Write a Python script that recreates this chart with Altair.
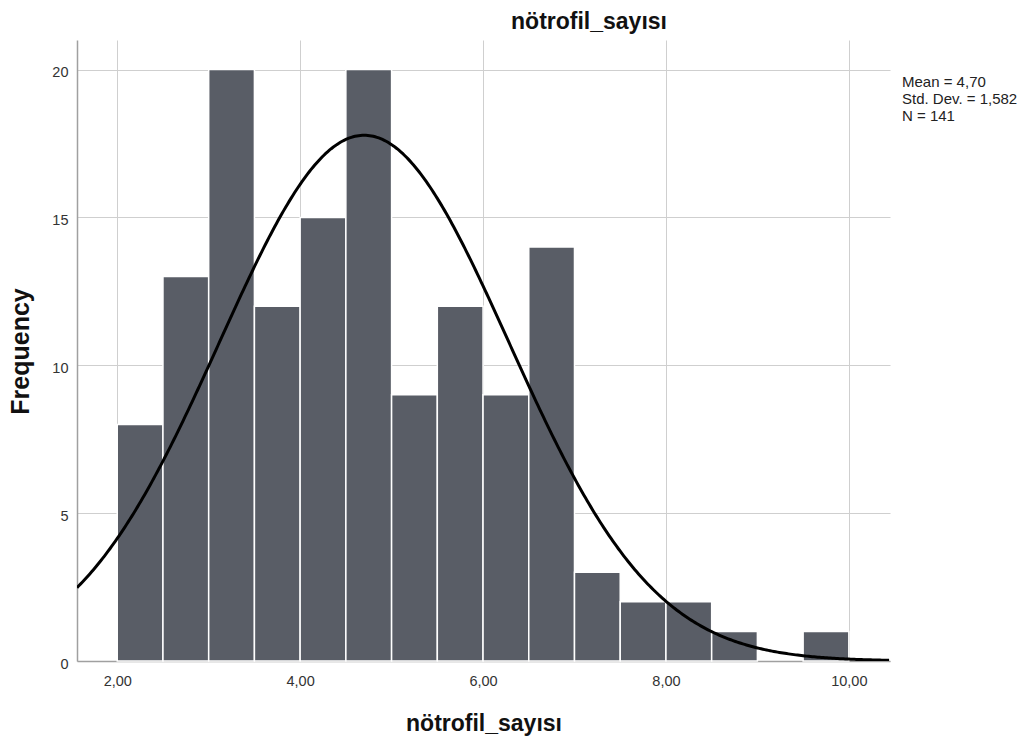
import altair as alt
import pandas as pd

# Histogram bins (width 0.5) and frequencies
bin_start = [2.0, 2.5, 3.0, 3.5, 4.0, 4.5, 5.0, 5.5, 6.0, 6.5, 7.0, 7.5, 8.0, 8.5, 9.5]
bin_end = [2.5, 3.0, 3.5, 4.0, 4.5, 5.0, 5.5, 6.0, 6.5, 7.0, 7.5, 8.0, 8.5, 9.0, 10.0]
counts = [8, 13, 20, 12, 15, 20, 9, 12, 9, 14, 3, 2, 2, 1, 1]

# Summary statistics printed on the chart
mean_val = 4.70
sd_val = 1.582
n_val = 141
bin_width = 0.5
stats_lines = ["Mean = 4,70", "Std. Dev. = 1,582", "N = 141"]

x_ticks = [2, 4, 6, 8, 10]
y_ticks = [0, 5, 10, 15, 20]
x_domain = [1.56, 10.45]
y_domain = [0, 21.0]

FONT = "Liberation Sans"
BAR = "#595d66"
CHART_TITLE = "nötrofil_sayısı"
X_TITLE = "nötrofil_sayısı"

bars_df = pd.DataFrame({"start": bin_start, "end": bin_end, "count": counts,
                        "base": [0] * len(counts)})
stats_df = pd.DataFrame({"line": stats_lines, "row": list(range(len(stats_lines)))})
title_df = pd.DataFrame({"t": [CHART_TITLE]})

x_scale = alt.Scale(domain=x_domain, nice=False, zero=False)
y_scale = alt.Scale(domain=y_domain, nice=False)

x_axis = alt.Axis(
    title=X_TITLE, values=x_ticks, labelExpr="replace(format(datum.value, '.2f'), '.', ',')",
    grid=True, ticks=False, labelPadding=13, labelFontSize=14.5, labelColor="#333333",
    labelFont=FONT, titleFont=FONT, titleFontSize=23, titleFontWeight="bold", titleColor="#111111",
    titleY=69, titleBaseline="alphabetic", labelFlush=False,
)
y_axis = alt.Axis(
    title="Frequency", values=y_ticks, grid=True, ticks=False, labelPadding=9,
    labelFontSize=14.5, labelColor="#333333", labelFont=FONT, labelOffset=3,
    titleFont=FONT, titleFontSize=25, titleFontWeight="bold", titleColor="#111111",
    titleX=-49, titleY=311, titleAngle=-90, titleBaseline="alphabetic", titleAlign="center",
)

bars = alt.Chart(bars_df).mark_rect(color=BAR, stroke="white", strokeWidth=1.5).encode(
    x=alt.X("start:Q", scale=x_scale, axis=x_axis),
    x2="end:Q",
    y=alt.Y("count:Q", scale=y_scale, axis=y_axis),
    y2="base:Q",
)

curve = alt.Chart(
    alt.sequence(start=x_domain[0], stop=x_domain[1] + 0.01, step=0.02, as_="v")
).transform_calculate(
    f=f"{n_val} * {bin_width} / ({sd_val} * sqrt(2 * PI)) * exp(-0.5 * pow((datum.v - {mean_val}) / {sd_val}, 2))"
).mark_line(color="black", strokeWidth=3, clip=True).encode(
    x=alt.X("v:Q", scale=x_scale, title=X_TITLE),
    y=alt.Y("f:Q", scale=y_scale, title="Frequency"),
)

stats = alt.Chart(stats_df).mark_text(
    align="left", baseline="middle", font=FONT, fontSize=15, color="#222222"
).encode(
    x=alt.value(825),
    y=alt.Y("row:Q", scale=alt.Scale(domain=[0, 2], range=[42, 76]), axis=None),
    text="line:N",
)

title_mark = alt.Chart(title_df).mark_text(
    align="center", baseline="alphabetic", font=FONT, fontSize=23, fontWeight="bold",
    color="#111111",
).encode(
    x=alt.value(512),
    y=alt.value(-11),
    text="t:N",
)

main = alt.layer(bars, curve)

chart = alt.layer(main, stats, title_mark).resolve_scale(y="independent").properties(
    width=813,
    height=621,
    autosize=alt.AutoSizeParams(type="none"),
    padding={"left": 69, "top": 32, "right": 128, "bottom": 76},
).configure_view(stroke=None).configure_axis(
    domainColor="#a0a0a0", domainWidth=1.5, gridColor="#cfcfcf", gridWidth=1,
)

chart.save("out.html", embed_options={"renderer": "svg", "actions": False})
